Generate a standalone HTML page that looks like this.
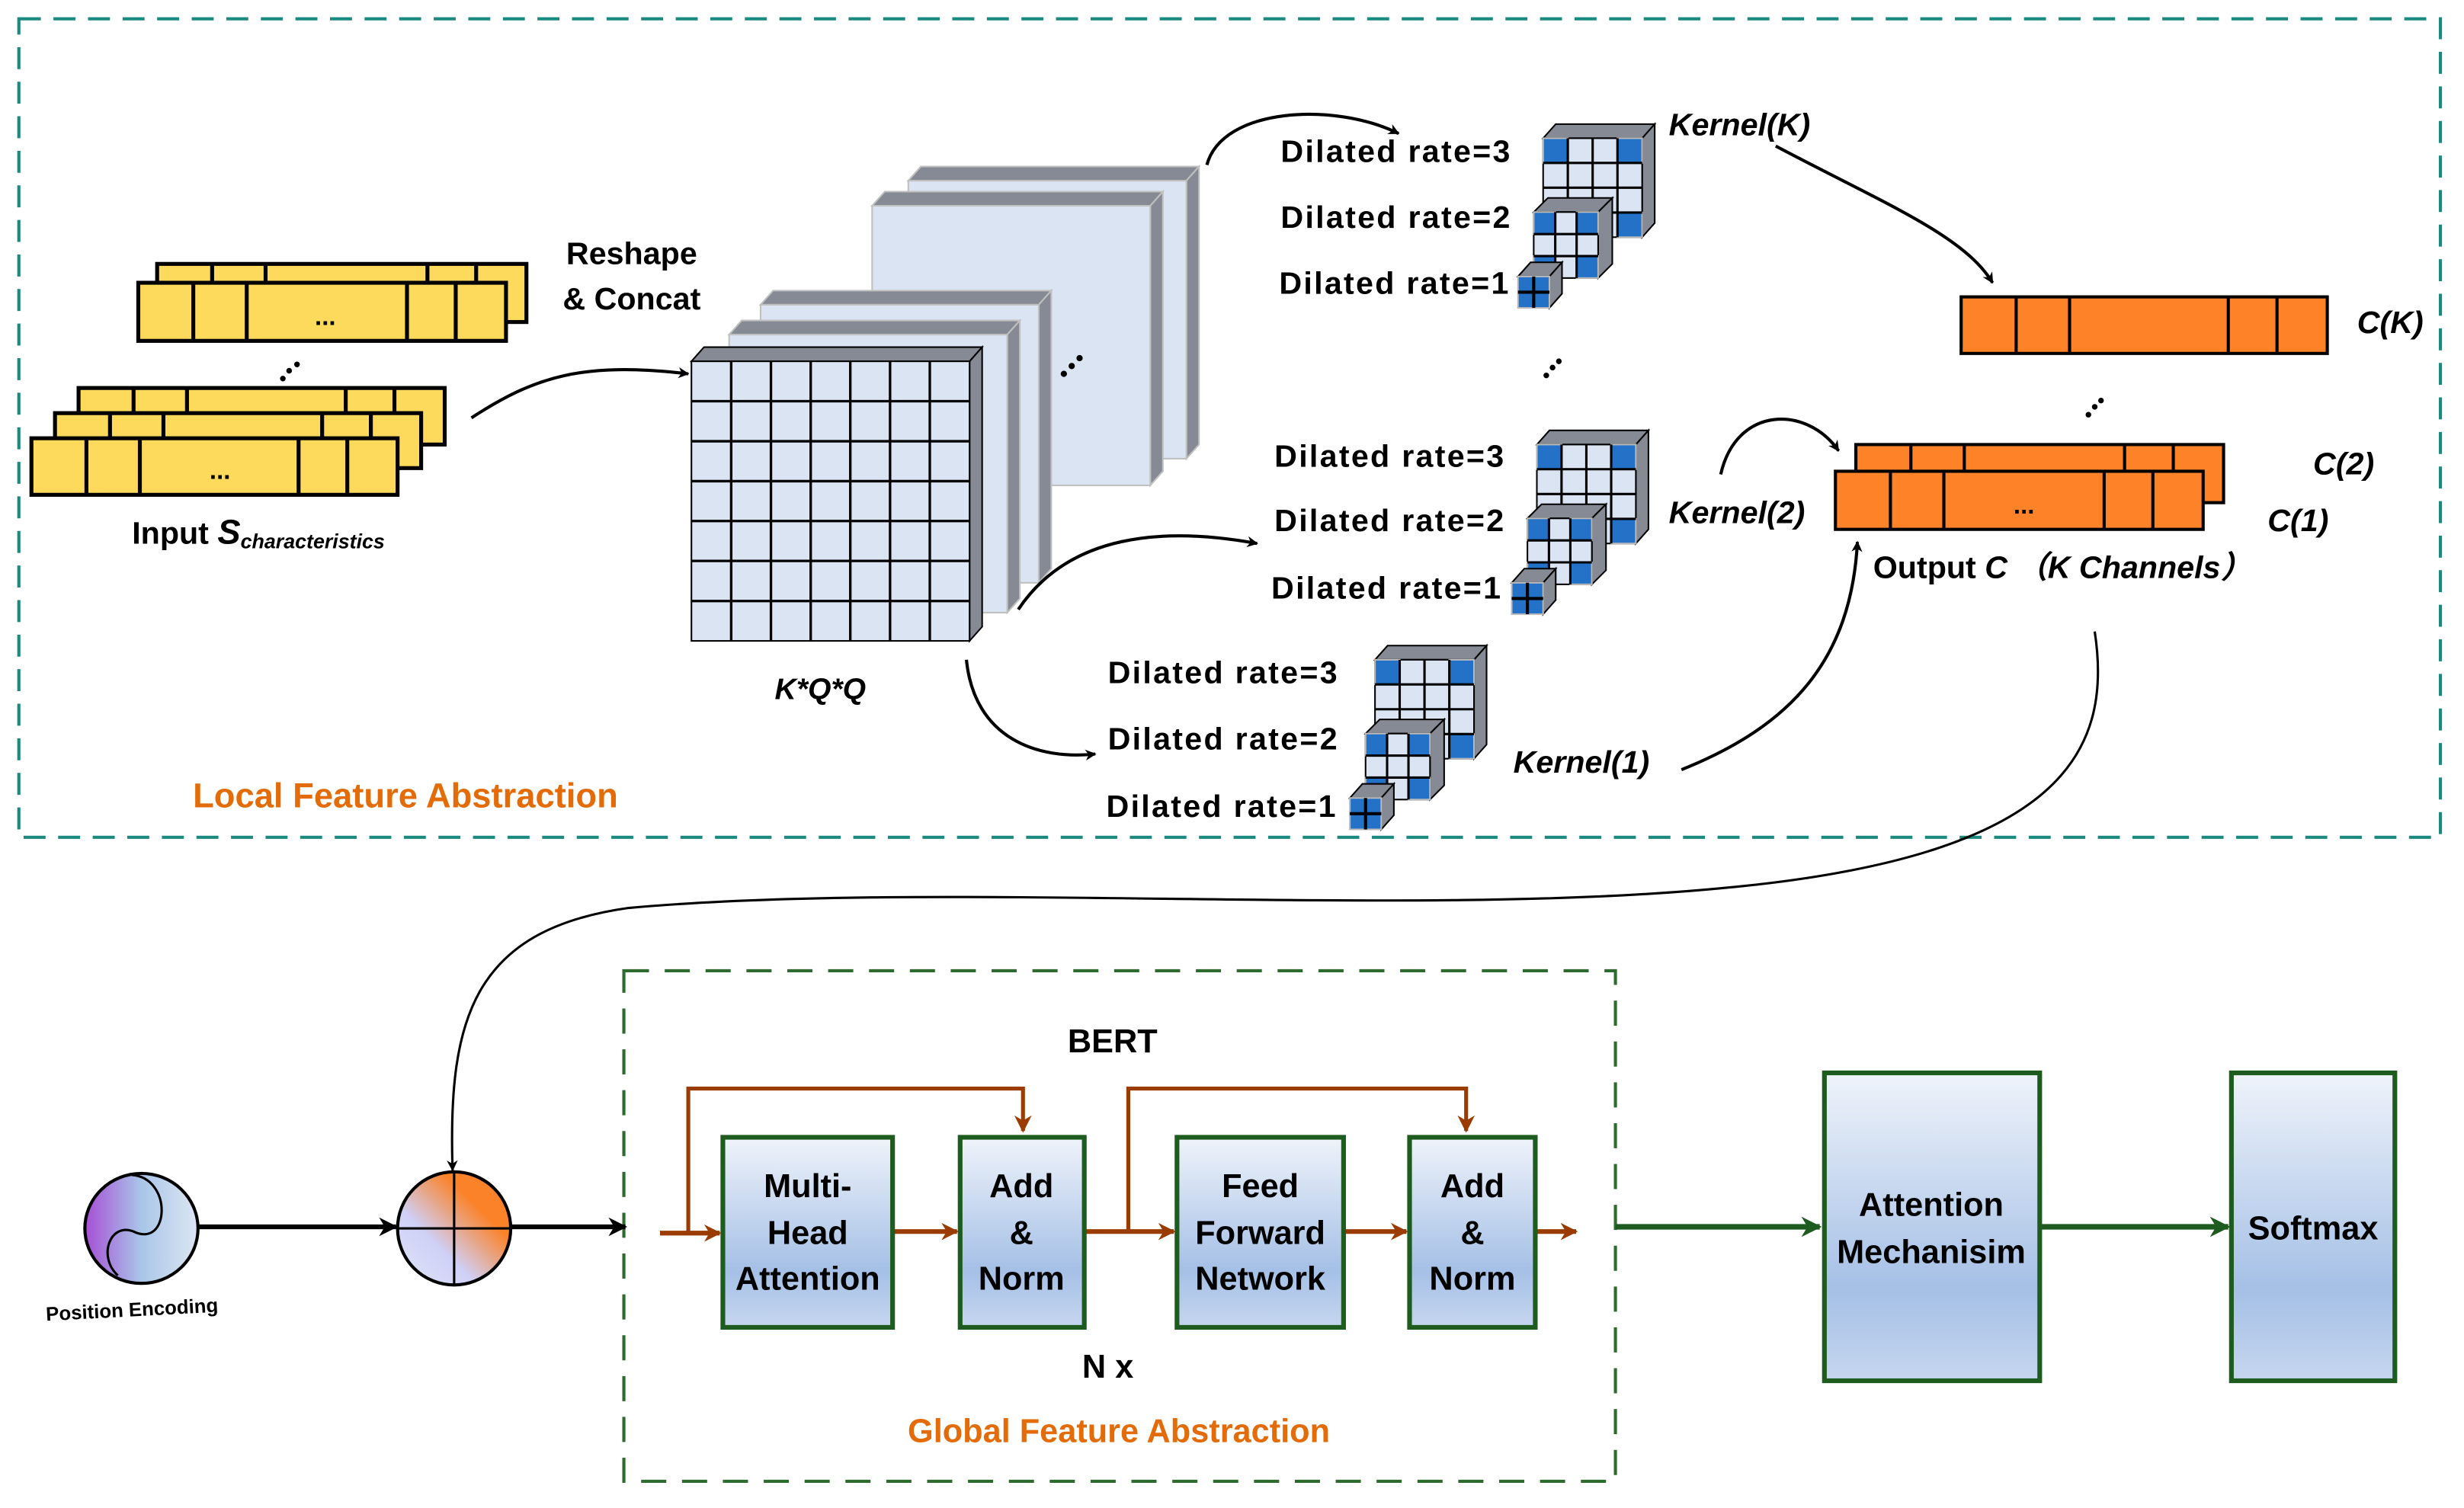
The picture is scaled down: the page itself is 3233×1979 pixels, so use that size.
<!DOCTYPE html>
<html><head><meta charset="utf-8"><style>
html,body{margin:0;padding:0;background:#fff;}
svg{display:block;}
text{font-family:"Liberation Sans","DejaVu Sans",sans-serif;font-weight:bold;fill:#000;}
</style></head><body>
<svg width="3233" height="1979" viewBox="0 0 1568 960" preserveAspectRatio="none" xmlns="http://www.w3.org/2000/svg">
<defs>
<marker id="ab" viewBox="0 0 10 10" refX="9" refY="5" markerWidth="7" markerHeight="7" orient="auto" markerUnits="userSpaceOnUse"><path d="M0,0 L10,5 L0,10 L3,5 z" fill="#000"/></marker>
<marker id="ab2" viewBox="0 0 10 10" refX="9" refY="5" markerWidth="12" markerHeight="12" orient="auto" markerUnits="userSpaceOnUse"><path d="M0,0 L10,5 L0,10 L3,5 z" fill="#000"/></marker>
<marker id="ao" viewBox="0 0 10 10" refX="9" refY="5" markerWidth="11" markerHeight="11" orient="auto" markerUnits="userSpaceOnUse"><path d="M0,0 L10,5 L0,10 L3,5 z" fill="#9a3b00"/></marker>
<marker id="ag" viewBox="0 0 10 10" refX="9" refY="5" markerWidth="13" markerHeight="13" orient="auto" markerUnits="userSpaceOnUse"><path d="M0,0 L10,5 L0,10 L3,5 z" fill="#1d5c1e"/></marker>
<linearGradient id="bg" x1="0" y1="0" x2="0" y2="1"><stop offset="0" stop-color="#eff3fa"/><stop offset="0.7" stop-color="#a5c0e6"/><stop offset="1" stop-color="#c6d6ef"/></linearGradient>
<linearGradient id="pe" x1="0" y1="0" x2="1" y2="0"><stop offset="0" stop-color="#a64fd6"/><stop offset="0.5" stop-color="#a9c6e8"/><stop offset="1" stop-color="#dde6f3"/></linearGradient>
<linearGradient id="oc" x1="1" y1="0" x2="0" y2="1"><stop offset="0.3" stop-color="#fb8228"/><stop offset="0.65" stop-color="#d0d0f8"/><stop offset="1" stop-color="#dde6f3"/></linearGradient>
<g id="ks" stroke="#000" stroke-width="1">
  <polygon points="982,88 990,79 1053,79 1045,88" fill="#858a94"/>
  <polygon points="1045,88 1053,79 1053,142 1045,151" fill="#858a94"/>
  <rect x="982" y="88" width="63" height="63" fill="#dae4f2"/>
  <g fill="#2372c8" stroke="#bbb"><rect x="982" y="88" width="15.7" height="15.7"/><rect x="1029.3" y="88" width="15.7" height="15.7"/><rect x="982" y="135.3" width="15.7" height="15.7"/><rect x="1029.3" y="135.3" width="15.7" height="15.7"/></g>
  <path d="M997.7,88V151M1013.5,88V151M1029.3,88V151M982,103.7H1045M982,119.5H1045M982,135.3H1045" stroke-width="1.5"/>
  <polygon points="976,135 985,126 1026,126 1017,135" fill="#858a94"/>
  <polygon points="1017,135 1026,126 1026,168 1017,177" fill="#858a94"/>
  <rect x="976" y="135" width="41" height="42" fill="#dae4f2"/>
  <g fill="#2372c8" stroke="#bbb"><rect x="976" y="135" width="13.7" height="14"/><rect x="1003.3" y="135" width="13.7" height="14"/><rect x="976" y="163" width="13.7" height="14"/><rect x="1003.3" y="163" width="13.7" height="14"/></g>
  <path d="M989.7,135V177M1003.3,135V177M976,149H1017M976,163H1017" stroke-width="1.5"/>
  <polygon points="966,176 974,167 994,167 986,176" fill="#858a94"/>
  <polygon points="986,176 994,167 994,187 986,196" fill="#858a94"/>
  <rect x="966" y="176" width="20" height="20" fill="#2372c8" stroke="#bbb"/>
  <path d="M976,176V196M966,186H986" stroke-width="2"/>
</g>
</defs>

<!-- top dashed frame -->
<rect x="12" y="12" width="1541" height="521" fill="none" stroke="#1a8a80" stroke-width="2" stroke-dasharray="14,8"/>

<!-- yellow bars -->
<g stroke="#000" stroke-width="2.5" fill="#fdd95c">
<rect x="100" y="168" width="235" height="37"/><path d="M135,168V205M169,168V205M272,168V205M303,168V205"/>
<rect x="88" y="180" width="234" height="37"/><path d="M123,180V217M157,180V217M259,180V217M290,180V217"/>
<rect x="50" y="247" width="233" height="36"/><path d="M85,247V283M119,247V283M220,247V283M251,247V283"/>
<rect x="35" y="263" width="233" height="35"/><path d="M70,263V298M104,263V298M205,263V298M236,263V298"/>
<rect x="20" y="279" width="233" height="36"/><path d="M55,279V315M89,279V315M190,279V315M221,279V315"/>
</g>
<text x="207" y="207" font-size="16" text-anchor="middle">...</text>
<text x="140" y="305" font-size="16" text-anchor="middle">...</text>
<g fill="#000"><circle cx="180" cy="241" r="1.8"/><circle cx="184" cy="236" r="1.8"/><circle cx="189" cy="232" r="1.8"/></g>
<text x="84" y="346" font-size="20">Input <tspan font-style="italic" font-size="22">S</tspan><tspan font-style="italic" font-size="13" dy="3">characteristics</tspan></text>
<text x="402" y="168" font-size="20" text-anchor="middle">Reshape</text>
<text x="402" y="197" font-size="20" text-anchor="middle">&amp; Concat</text>

<!-- planes -->
<g stroke="#c0c0c0" stroke-width="1">
<polygon points="578,115 586,106 763,106 755,115" fill="#858a94"/><polygon points="755,115 763,106 763,283 755,292" fill="#858a94"/><rect x="578" y="115" width="177" height="177" fill="#dae4f2"/>
<polygon points="555,131 563,122 740,122 732,131" fill="#858a94"/><polygon points="732,131 740,122 740,300 732,309" fill="#858a94"/><rect x="555" y="131" width="177" height="178" fill="#dae4f2"/>
<polygon points="484,194 492,185 669,185 661,194" fill="#858a94"/><polygon points="661,194 669,185 669,362 661,371" fill="#858a94"/><rect x="484" y="194" width="177" height="177" fill="#dae4f2"/>
<polygon points="464,213 472,204 649,204 641,213" fill="#858a94"/><polygon points="641,213 649,204 649,381 641,390" fill="#858a94"/><rect x="464" y="213" width="177" height="177" fill="#dae4f2"/>
</g>
<g stroke="#000" stroke-width="1">
<polygon points="440,230 448,221 625,221 617,230" fill="#858a94"/><polygon points="617,230 625,221 625,399 617,408" fill="#858a94"/>
<rect x="440" y="230" width="177" height="178" fill="#dae4f2"/>
<path d="M465.3,230V408M490.6,230V408M515.9,230V408M541.1,230V408M566.4,230V408M591.7,230V408M440,255.4H617M440,280.9H617M440,306.3H617M440,331.7H617M440,357.1H617M440,382.6H617" stroke-width="1.6"/>
</g>
<g fill="#000"><circle cx="677" cy="238" r="2"/><circle cx="682" cy="233" r="2"/><circle cx="687" cy="228" r="2"/></g>
<text x="522" y="445" font-size="19" font-style="italic" text-anchor="middle">K*Q*Q</text>

<!-- kernels -->
<use href="#ks"/>
<use href="#ks" transform="translate(-4,195)"/>
<use href="#ks" transform="translate(-107,332)"/>
<g font-size="20">
<text x="815" y="103" textLength="146">Dilated rate=3</text>
<text x="815" y="145" textLength="146">Dilated rate=2</text>
<text x="814" y="187" textLength="146">Dilated rate=1</text>
<text x="811" y="297" textLength="146">Dilated rate=3</text>
<text x="811" y="338" textLength="146">Dilated rate=2</text>
<text x="809" y="381" textLength="146">Dilated rate=1</text>
<text x="705" y="435" textLength="146">Dilated rate=3</text>
<text x="705" y="477" textLength="146">Dilated rate=2</text>
<text x="704" y="520" textLength="146">Dilated rate=1</text>
</g>
<g font-size="20" font-style="italic">
<text x="1062" y="86">Kernel(K)</text>
<text x="1062" y="333">Kernel(2)</text>
<text x="963" y="492">Kernel(1)</text>
<text x="1500" y="212">C(K)</text>
<text x="1472" y="302">C(2)</text>
<text x="1443" y="338">C(1)</text>
</g>
<text x="1192" y="368" font-size="20">Output <tspan font-style="italic">C</tspan>  <tspan font-style="italic" font-family="Liberation Sans, Noto Sans CJK SC, sans-serif">（K Channels）</tspan></text>
<g fill="#000"><circle cx="984" cy="239" r="1.8"/><circle cx="988" cy="234" r="1.8"/><circle cx="992" cy="230" r="1.8"/>
<circle cx="1329" cy="264" r="1.8"/><circle cx="1333" cy="259" r="1.8"/><circle cx="1337" cy="255" r="1.8"/></g>

<!-- orange bars -->
<g stroke="#000" stroke-width="2" fill="#fd8228">
<rect x="1248" y="189" width="233" height="36"/><path d="M1283,189V225M1317,189V225M1418,189V225M1449,189V225"/>
<rect x="1181" y="283" width="234" height="37"/><path d="M1216,283V320M1250,283V320M1352,283V320M1383,283V320"/>
<rect x="1168" y="300" width="234" height="37"/><path d="M1203,300V337M1237,300V337M1339,300V337M1370,300V337"/>
</g>
<text x="1288" y="327" font-size="16" text-anchor="middle">...</text>

<!-- curves top -->
<g fill="none" stroke="#000" stroke-width="2" marker-end="url(#ab)">
<path d="M300,266 C340,240 370,230 438,238"/>
<path d="M768,105 C778,68 850,65 890,85"/>
<path d="M648,388 C680,340 740,335 800,346"/>
<path d="M615,420 C620,470 660,484 697,480"/>
<path d="M1130,93 C1200,130 1250,150 1268,180"/>
<path d="M1095,302 C1105,258 1150,258 1170,287"/>
<path d="M1070,490 C1140,462 1178,420 1182,345"/>
<path d="M1333,402 C1345,480 1310,545 1100,565 C900,585 600,560 400,578 C300,592 285,650 288,745" stroke-width="1.5"/>
</g>

<!-- bottom -->
<rect x="397" y="618" width="631" height="325" fill="none" stroke="#2e6b2e" stroke-width="2" stroke-dasharray="16,10"/>
<ellipse cx="90" cy="782" rx="36" ry="35" fill="url(#pe)" stroke="#000" stroke-width="2"/>
<path d="M84,748 C110,750 108,795 85,784 C70,778 62,800 75,812" fill="none" stroke="#000" stroke-width="1.5"/>
<text x="84" y="838" font-size="12.5" text-anchor="middle" transform="rotate(-3 84 834)">Position Encoding</text>
<circle cx="289" cy="782" r="36" fill="url(#oc)" stroke="#000" stroke-width="2"/>
<path d="M289,746V818M253,782H325" stroke="#000" stroke-width="1.5"/>
<g stroke="#000" stroke-width="3" marker-end="url(#ab2)"><path d="M126,781H252"/><path d="M325,781H398"/></g>

<g stroke="#9a3b00" stroke-width="3" fill="none">
<path d="M420,785H458" marker-end="url(#ao)"/>
<path d="M438,785V693H651V720" stroke-width="2.5" marker-end="url(#ao)"/>
<path d="M568,784H609" marker-end="url(#ao)"/>
<path d="M690,784H747" marker-end="url(#ao)"/>
<path d="M718,784V693H933V720" stroke-width="2.5" marker-end="url(#ao)"/>
<path d="M855,784H895" marker-end="url(#ao)"/>
<path d="M977,784H1003" marker-end="url(#ao)"/>
</g>
<g stroke="#1d5c1e" stroke-width="3" fill="url(#bg)">
<rect x="460" y="724" width="108" height="121"/>
<rect x="611" y="724" width="79" height="121"/>
<rect x="749" y="724" width="106" height="121"/>
<rect x="897" y="724" width="80" height="121"/>
<rect x="1161" y="683" width="137" height="196"/>
<rect x="1420" y="683" width="104" height="196"/>
</g>
<g stroke="#1d5c1e" stroke-width="3.5"><path d="M1028,781H1158" marker-end="url(#ag)"/><path d="M1298,781H1418" marker-end="url(#ag)"/></g>
<g font-size="21" text-anchor="middle">
<text x="514" y="762">Multi-</text><text x="514" y="792">Head</text><text x="514" y="821">Attention</text>
<text x="650" y="762">Add</text><text x="650" y="792">&amp;</text><text x="650" y="821">Norm</text>
<text x="802" y="762">Feed</text><text x="802" y="792">Forward</text><text x="802" y="821">Network</text>
<text x="937" y="762">Add</text><text x="937" y="792">&amp;</text><text x="937" y="821">Norm</text>
<text x="1229" y="774">Attention</text><text x="1229" y="804">Mechanisim</text>
<text x="1472" y="789">Softmax</text>
<text x="708" y="670">BERT</text>
<text x="705" y="877">N x</text>
</g>
<text x="712" y="918" font-size="21" text-anchor="middle" style="fill:#e36c09">Global Feature Abstraction</text>
<text x="258" y="514" font-size="22" text-anchor="middle" style="fill:#e36c09">Local Feature Abstraction</text>
</svg>
</body></html>
